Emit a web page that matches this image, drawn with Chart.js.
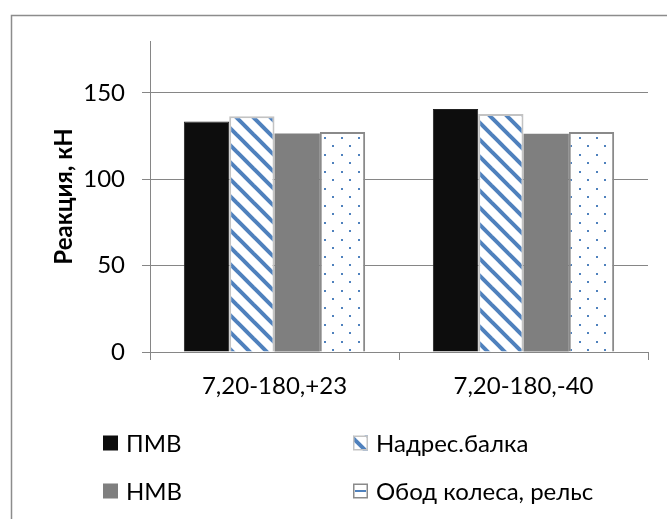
<!DOCTYPE html>
<html>
<head>
<meta charset="utf-8">
<script src="https://cdn.jsdelivr.net/npm/chart.js@4.4.1/dist/chart.umd.min.js"></script>
<style>
  html, body { margin: 0; padding: 0; background: #ffffff; }
  #wrap { width: 667px; height: 519px; position: relative; }
</style>
</head>
<body>
<div id="wrap"><canvas id="c" width="667" height="519"></canvas></div>
<script>
// Reaction forces, kN, for two load cases
const categories = ['7,20-180,+23', '7,20-180,-40'];
const seriesNames = ['ПМВ', 'Надрес.балка', 'НМВ', 'Обод колеса, рельс'];
const pmv = [133.4, 140.6];
const nadres = [136.5, 137.7];
const nmv = [126.5, 126.3];
const obod = [127.3, 127.3];
const yTicks = [0, 50, 100, 150];
const yMax = 180;
const yTitle = 'Реакция, кН';

const FONT = 'Lato, "Liberation Sans", sans-serif';
const GRID = '#868686';
const BLUE = '#4f81bd';

const canvas = document.getElementById('c');
const mainCtx = canvas.getContext('2d');

// wide downward diagonal stripes
function makeHatch() {
  const s = 17;
  const t = document.createElement('canvas');
  t.width = s; t.height = s;
  const g = t.getContext('2d');
  g.fillStyle = '#ffffff';
  g.fillRect(0, 0, s, s);
  g.strokeStyle = BLUE;
  g.lineWidth = 4;
  for (const o of [-s, 0, s]) {
    g.beginPath();
    g.moveTo(o - 3, -3);
    g.lineTo(o + s + 3, s + 3);
    g.stroke();
  }
  return mainCtx.createPattern(t, 'repeat');
}

// sparse staggered dots
function makeDots() {
  const s = 17;
  const t = document.createElement('canvas');
  t.width = s; t.height = s;
  const g = t.getContext('2d');
  g.fillStyle = '#ffffff';
  g.fillRect(0, 0, s, s);
  g.fillStyle = BLUE;
  g.fillRect(1, 1, 2, 2);
  g.fillRect(9, 9, 2, 2);
  return mainCtx.createPattern(t, 'repeat');
}

const hatch = makeHatch();
const dots = makeDots();

const series = [
  { data: pmv,    fill: '#0d0d0d', border: '#222222', bw: 1, mark: 'solid' },
  { data: nadres, fill: hatch,     border: '#c3c3c3', bw: 2, mark: 'hatch' },
  { data: nmv,    fill: '#7f7f7f', border: '#7f7f7f', bw: 0, mark: 'solid' },
  { data: obod,   fill: dots,      border: '#8a8a8a', bw: 2, mark: 'line' }
];

const datasets = series.map((s, i) => ({
  label: seriesNames[i],
  data: s.data,
  backgroundColor: s.fill,
  borderColor: s.border,
  borderWidth: s.bw,
  legendMark: s.mark,
  categoryPercentage: 0.728,
  barPercentage: 1.0
}));

// outer frame of the chart object
const framePlugin = {
  id: 'frame',
  beforeDraw(chart) {
    const ctx = chart.ctx;
    ctx.save();
    ctx.fillStyle = '#ffffff';
    ctx.fillRect(0, 0, chart.width, chart.height);
    ctx.strokeStyle = '#8c8c8c';
    ctx.lineWidth = 1.5;
    ctx.beginPath();
    ctx.moveTo(11.5, chart.height);
    ctx.lineTo(11.5, 15.5);
    ctx.lineTo(chart.width, 15.5);
    ctx.stroke();
    ctx.restore();
  }
};

// two-column legend under the plot
const legendPlugin = {
  id: 'gridLegend',
  afterDraw(chart) {
    const ctx = chart.ctx;
    const cols = [103, 353];
    const rows = [443, 491];
    const box = 15;
    ctx.save();
    ctx.font = '24px ' + FONT;
    ctx.textBaseline = 'middle';
    ctx.textAlign = 'left';
    chart.data.datasets.forEach((ds, i) => {
      const x = cols[i % 2];
      const y = rows[Math.floor(i / 2)];
      const top = y - box / 2;
      if (ds.legendMark === 'solid') {
        ctx.fillStyle = ds.backgroundColor;
        ctx.fillRect(x, top, box, box);
      } else {
        ctx.fillStyle = '#ffffff';
        ctx.fillRect(x, top, box, box);
        if (ds.legendMark === 'hatch') {
          ctx.fillStyle = ds.backgroundColor;
          ctx.fillRect(x, top, box, box);
        } else {
          ctx.fillStyle = BLUE;
          ctx.fillRect(x + 2, y - 1, box - 4, 2);
        }
        ctx.strokeStyle = ds.borderColor;
        ctx.lineWidth = 1.5;
        ctx.strokeRect(x + 0.75, top + 0.75, box - 1.5, box - 1.5);
      }
      ctx.fillStyle = '#000000';
      ctx.fillText(ds.label, x + 23, y + 1);
    });
    ctx.restore();
  }
};

new Chart(canvas, {
  type: 'bar',
  data: { labels: categories, datasets: datasets },
  options: {
    responsive: false,
    animation: false,
    layout: { padding: { top: 41, right: 19, left: 0, bottom: 107 } },
    plugins: {
      legend: { display: false },
      tooltip: { enabled: false }
    },
    scales: {
      x: {
        offset: true,
        grid: { display: true, drawOnChartArea: false, offset: true, drawTicks: true, tickLength: 8, color: GRID, lineWidth: 1 },
        border: { display: true, color: GRID, width: 1 },
        ticks: { color: '#000000', font: { family: FONT, size: 24 }, padding: 12, maxRotation: 0 },
        afterFit(scale) { scale.height = 60; }
      },
      y: {
        min: 0,
        max: yMax,
        ticks: { stepSize: 50, color: '#000000', font: { family: FONT, size: 24 }, padding: 17 },
        afterBuildTicks(scale) {
          scale.ticks = yTicks.map(v => ({ value: v }));
        },
        grid: { color: GRID, lineWidth: 1, tickLength: 8, drawTicks: true },
        border: { display: true, color: GRID, width: 1 },
        title: {
          display: true,
          text: yTitle,
          color: '#000000',
          font: { family: FONT, size: 24, weight: 'bold' },
          padding: { top: 50, bottom: 0 }
        },
        afterFit(scale) { scale.width = 150; }
      }
    }
  },
  plugins: [framePlugin, legendPlugin]
});
</script>
</body>
</html>
